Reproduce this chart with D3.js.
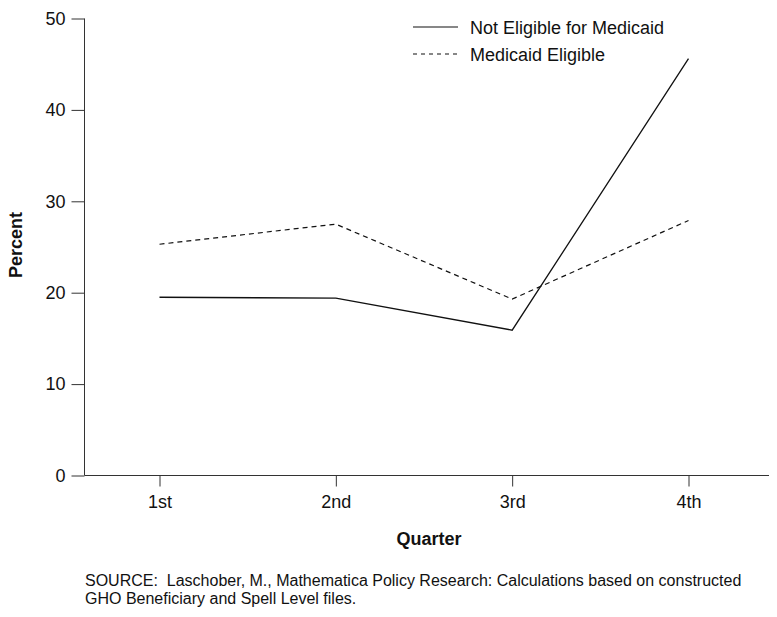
<!DOCTYPE html>
<html>
<head>
<meta charset="utf-8">
<script src="https://cdn.jsdelivr.net/npm/d3@7"></script>
<style>
  body { margin: 0; background: #fff; }
  text { font-family: "Liberation Sans", Arial, sans-serif; fill: #111; }
</style>
</head>
<body>
<svg id="chart" width="777" height="617"></svg>
<script>
const quarters = ["1st", "2nd", "3rd", "4th"];
const notEligible = [19.5, 19.4, 15.9, 45.6];
const medicaidEligible = [25.3, 27.5, 19.3, 27.9];
const yTicks = [0, 10, 20, 30, 40, 50];
const seriesNames = ["Not Eligible for Medicaid", "Medicaid Eligible"];

const svg = d3.select("#chart");
const plotLeft = 84.5, plotRight = 769, plotTop = 18.5, plotBottom = 475.5;

const x = d3.scalePoint()
    .domain(quarters)
    .range([159.5, 688.5]);

const y = d3.scaleLinear()
    .domain([0, 50])
    .range([plotBottom, plotTop]);

// y axis
const yAxis = svg.append("g")
    .attr("transform", `translate(${plotLeft},0)`)
    .call(d3.axisLeft(y).tickValues(yTicks).tickSize(13).tickPadding(6));
yAxis.select(".domain").remove();
yAxis.append("line")
    .attr("x1", 0).attr("x2", 0)
    .attr("y1", plotTop).attr("y2", plotBottom)
    .attr("stroke", "#333");

// x axis
const xAxis = svg.append("g")
    .attr("transform", `translate(0,${plotBottom})`)
    .call(d3.axisBottom(x).tickSize(11).tickPadding(9));
xAxis.select(".domain").remove();
xAxis.append("line")
    .attr("x1", plotLeft).attr("x2", plotRight)
    .attr("stroke", "#333");

svg.selectAll(".tick line").attr("stroke", "#333");
svg.selectAll(".tick text")
    .attr("font-size", 18)
    .style("font-family", "Liberation Sans, Arial, sans-serif")
    .attr("fill", "#111");

// axis titles
svg.append("text")
    .attr("transform", "translate(22,245) rotate(-90)")
    .attr("text-anchor", "middle")
    .attr("font-size", 18)
    .attr("font-weight", "bold")
    .text("Percent");

svg.append("text")
    .attr("x", 429)
    .attr("y", 545)
    .attr("text-anchor", "middle")
    .attr("font-size", 18)
    .attr("font-weight", "bold")
    .text("Quarter");

// lines
const line = d3.line()
    .x((d, i) => x(quarters[i]))
    .y(d => y(d));

svg.append("path")
    .datum(notEligible)
    .attr("d", line)
    .attr("fill", "none")
    .attr("stroke", "#111")
    .attr("stroke-width", 1.3);

svg.append("path")
    .datum(medicaidEligible)
    .attr("d", line)
    .attr("fill", "none")
    .attr("stroke", "#111")
    .attr("stroke-width", 1.2)
    .attr("stroke-dasharray", "5,4");

// legend
const legend = svg.append("g");
seriesNames.forEach((name, i) => {
    const ly = 27 + i * 27;
    legend.append("line")
        .attr("x1", 413).attr("x2", 458)
        .attr("y1", ly).attr("y2", ly)
        .attr("stroke", "#111")
        .attr("stroke-width", 1.2)
        .attr("stroke-dasharray", i === 1 ? "4,4" : null);
    legend.append("text")
        .attr("x", 470)
        .attr("y", ly + 7)
        .attr("font-size", 18)
        .text(name);
});

// source note (keep the double space after SOURCE:)
const note = svg.append("text")
    .attr("x", 85)
    .attr("font-size", 16)
    .style("white-space", "pre");
note.append("tspan").attr("x", 85).attr("y", 586)
    .text("SOURCE:  Laschober, M., Mathematica Policy Research: Calculations based on constructed");
note.append("tspan").attr("x", 85).attr("y", 604)
    .text("GHO Beneficiary and Spell Level files.");
</script>
</body>
</html>
